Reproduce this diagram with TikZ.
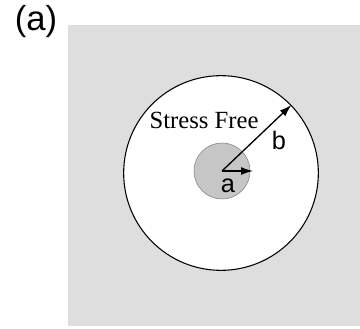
\documentclass[tikz,border=0pt]{standalone}
\usepackage{fontspec}
\setmainfont{Liberation Serif}
\setsansfont{Liberation Sans}
\usepackage{tikz}
\usetikzlibrary{arrows.meta}

\definecolor{bggray}{RGB}{222,222,222}
\definecolor{coregray}{RGB}{198,198,198}

\begin{document}
\begin{tikzpicture}[x=0.75pt,y=-0.75pt]
	\useasboundingbox (0,0) rectangle (360,328);
	\fill[bggray] (68,25) rectangle (360,326);
	
	\node[shape=circle,draw=black,fill=white,thick,minimum size=146pt,inner sep=0pt] (outer) at (221,173) {};
	\node[shape=circle,draw=gray,fill=coregray,minimum size=42pt,inner sep=0pt] (core) at (222,171) {};
	\coordinate (o) at (222,171);
	\coordinate (ta) at (253,171);
	
	\node[font=\fontsize{26}{30}\sffamily] (lab) at (36,22) {(a)};
	\node[font=\fontsize{18.5}{22}\selectfont] (free) at (204,120) {Stress Free};
	\node[font=\fontsize{19}{22}\sffamily] (b) at (279,140) {b};
	\node[font=\fontsize{19}{22}\sffamily] (a) at (228,186) {a};
	
	\path[-{Latex[length=9pt,width=6pt]}, line width=1pt] (o) edge (outer.44);
	\path[-{Latex[length=9pt,width=6pt]}, line width=1pt] (o) edge (ta);
	
\end{tikzpicture}
\end{document}
